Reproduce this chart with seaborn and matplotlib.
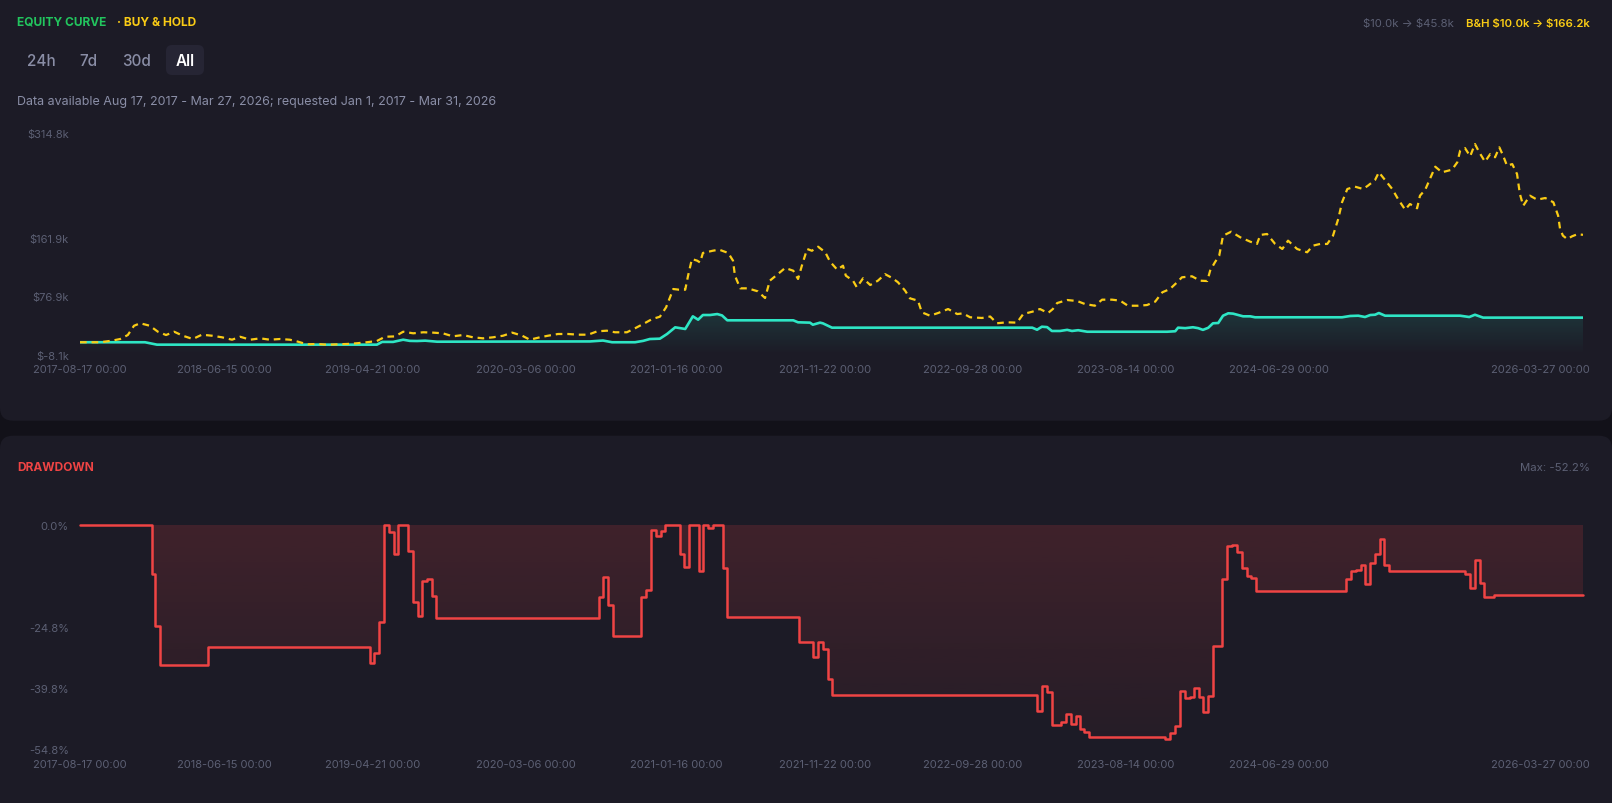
import numpy as np
import pandas as pd
import matplotlib
matplotlib.use("Agg")
import matplotlib.pyplot as plt
import matplotlib.dates as mdates
from matplotlib.patches import FancyBboxPatch
from matplotlib.colors import to_rgb
from matplotlib.transforms import ScaledTranslation
import seaborn as sns

# --- data (days counted from the first bar) ---
START = "2017-08-17"

bh_days = [0, 42, 67, 84, 100, 113, 126, 146, 163, 180,
           197, 215, 236, 255, 276, 297, 318, 335, 356, 377,
           397, 418, 439, 456, 475, 496, 517, 538, 559, 579,
           600, 621, 638, 659, 676, 697, 718, 738, 759, 780,
           801, 822, 843, 864, 885, 904, 925, 941, 962, 979,
           1000, 1021, 1042, 1063, 1082, 1102, 1119, 1144, 1161, 1178,
           1197, 1213, 1226, 1241, 1253, 1266, 1272, 1280, 1291, 1297,
           1303, 1324, 1337, 1356, 1366, 1370, 1381, 1397, 1418, 1433,
           1443, 1460, 1475, 1492, 1502, 1510, 1521, 1531, 1544, 1559,
           1569, 1584, 1596, 1602, 1617, 1625, 1638, 1653, 1669, 1684,
           1699, 1711, 1726, 1736, 1753, 1761, 1778, 1795, 1816, 1835,
           1847, 1862, 1887, 1904, 1918, 1939, 1960, 1973, 1992, 2008,
           2025, 2035, 2044, 2065, 2086, 2102, 2123, 2138, 2159, 2176,
           2192, 2213, 2232, 2249, 2264, 2280, 2295, 2305, 2326, 2343,
           2358, 2364, 2374, 2383, 2391, 2408, 2427, 2448, 2462, 2469,
           2483, 2500, 2515, 2527, 2546, 2567, 2579, 2594, 2609, 2621,
           2632, 2640, 2651, 2667, 2684, 2694, 2709, 2717, 2730, 2745,
           2757, 2772, 2782, 2797, 2803, 2814, 2835, 2849, 2870, 2881,
           2887, 2897, 2908, 2918, 2927, 2939, 2950, 2960, 2969, 2977,
           2985, 2996, 3006, 3012, 3019, 3033, 3048, 3065, 3082, 3092,
           3096, 3102, 3111, 3121, 3132, 3144]
bh_k = [10, 10, 12.3, 14.7, 20.5, 34, 37.6, 34, 25.3, 20.5,
        25.3, 19.5, 14.7, 21, 19.5, 17.2, 13.7, 18, 13.7, 15.7,
        13.7, 14.7, 13.7, 10.8, 7, 7.5, 6.4, 7, 7.5, 8.5,
        10, 11.8, 18, 18.5, 25.3, 23, 24.5, 24, 23, 18.6,
        20.5, 17.2, 15.7, 17.2, 19.5, 24, 19.5, 13.7, 17.2, 19.5,
        22, 22, 21, 21, 25.9, 26.8, 24.5, 24.5, 30.3, 36.5,
        43.8, 47.1, 60.8, 87.4, 86.4, 86.4, 106.8, 131, 128.6, 126,
        139.8, 143.1, 144.6, 139.8, 128.6, 106.8, 88.4, 88.4, 84, 74.3,
        99.5, 109.2, 118, 114, 102, 121.3, 145.6, 143, 148.9, 140.8,
        127.1, 115.5, 121.3, 106.8, 99.5, 89.9, 103, 93.2, 99.5, 109,
        103.4, 97.2, 85, 73.9, 70.4, 53.5, 48.6, 52.5, 58.3, 51,
        52, 46.3, 45.3, 47.4, 37.6, 39, 38.5, 51, 54.4, 58.3,
        52.5, 58.3, 67, 71.4, 69.9, 65.6, 63.1, 71.9, 71.9, 70.4,
        63.1, 63.1, 64.1, 69, 82.6, 87.4, 97.2, 104.4, 105.9, 99.5,
        99, 114, 126.2, 135.8, 164.9, 170.7, 162.6, 156.2, 152.9, 166,
        167.4, 152.9, 145.6, 157.7, 145.6, 140.8, 150.4, 152.9, 152.9, 164.9,
        189.2, 213.5, 232.8, 236.2, 232.8, 237.6, 245.9, 257.1, 245.9, 232.8,
        218.3, 202.7, 211, 204.8, 223.1, 231.8, 265.2, 257.1, 260.9, 271.6,
        288.5, 292.4, 280.4, 298.2, 286.2, 272.5, 283.7, 278.9, 293.4, 281.2,
        266.7, 269, 254.6, 225.5, 208.5, 223.1, 217.3, 219.7, 213.5, 194,
        174.7, 165, 160, 164, 167, 166.2]

eq_days = [0, 136, 161, 621, 632, 655, 676, 690, 705, 722,
           747, 1067, 1094, 1113, 1161, 1178, 1192, 1213, 1228, 1245,
           1266, 1282, 1293, 1303, 1318, 1333, 1343, 1354, 1492, 1502,
           1527, 1533, 1548, 1554, 1573, 1992, 2002, 2012, 2023, 2033,
           2050, 2065, 2075, 2088, 2107, 2274, 2291, 2297, 2312, 2328,
           2339, 2349, 2360, 2370, 2381, 2391, 2402, 2412, 2433, 2448,
           2458, 2640, 2657, 2674, 2688, 2699, 2709, 2717, 2730, 2887,
           2906, 2918, 2935, 3144]
eq_k = [10, 10, 6.5, 6.5, 10.5, 10.5, 13.7, 12, 11.8, 12.3,
        10.8, 11.2, 12.5, 10, 10, 12, 14.7, 15.2, 22, 31.7,
        29.3, 47.7, 42.8, 49.6, 49.6, 51, 49, 41.9, 41.9, 39,
        38.5, 35.5, 38.5, 37.5, 31.2, 31.2, 28.2, 32.6, 32, 26.4,
        26.4, 28, 26.4, 27.5, 25.3, 25.3, 26, 31.2, 30.5, 31.8,
        30.5, 28, 31, 37.6, 38, 48.6, 52.1, 51.6, 47.7, 47.7,
        46.3, 46.3, 48.2, 48.6, 46.7, 49.6, 50, 52.5, 48.6, 48.6,
        46.7, 50, 45.8, 45.8]

dd_days = [0, 151, 157, 167, 268, 607, 615, 626, 636, 646,
           657, 665, 686, 697, 707, 715, 726, 736, 745, 1086,
           1094, 1105, 1115, 1174, 1184, 1195, 1205, 1215, 1224, 1255,
           1264, 1274, 1295, 1303, 1314, 1324, 1345, 1354, 1504, 1533,
           1544, 1554, 1565, 1573, 2002, 2012, 2023, 2033, 2052, 2063,
           2073, 2084, 2092, 2100, 2111, 2270, 2280, 2291, 2301, 2312,
           2322, 2330, 2341, 2349, 2360, 2370, 2389, 2400, 2410, 2420,
           2431, 2441, 2450, 2460, 2648, 2659, 2669, 2680, 2688, 2699,
           2709, 2720, 2728, 2738, 2897, 2908, 2918, 2929, 2937, 2958,
           3144]
dd_pct = [0, -12.0, -24.6, -34.2, -29.9, -33.7, -31.2, -23.6, 0, -1.8,
          -7.1, 0, -6.4, -18.9, -22.3, -13.7, -13.2, -17.3, -22.6, -17.6,
          -12.8, -19.5, -27.2, -17.6, -15.8, -1.1, -2.8, -1.4, 0, -7.1,
          -10.2, 0, -11.3, 0, -0.7, 0, -10.6, -22.4, -28.6, -32.3,
          -28.6, -30.3, -37.7, -41.5, -45.3, -39.2, -40.7, -48.7, -48.2, -46.1,
          -48.5, -46.7, -49.8, -50.6, -51.8, -52.2, -50.8, -49.0, -40.4, -42.3,
          -42.1, -39.8, -42.1, -45.6, -41.8, -29.5, -13.2, -5.2, -4.8, -6.5,
          -10.4, -12.4, -12.9, -16.0, -13.2, -11.2, -10.9, -9.8, -14.4, -9.3,
          -7.2, -3.3, -9.8, -11.2, -12.0, -15.4, -8.5, -14.2, -17.5, -17.2,
          -17.2]

date_ticks = ["2017-08-17", "2018-06-15", "2019-04-21", "2020-03-06", "2021-01-16",
              "2021-11-22", "2022-09-28", "2023-08-14", "2024-06-29", "2026-03-27"]
eq_yticks = [-8.1, 76.9, 161.9, 314.8]
dd_yticks = [0.0, -24.8, -39.8, -54.8]
ranges = ["24h", "7d", "30d", "All"]

# colours
BG = "#121119"
CARD = "#1c1b26"
TEAL = "#2ee6c5"
GOLD = "#facc15"
RED = "#ef4444"
GREEN = "#22c55e"
MUTED = "#5c6074"
SUB = "#8a8ea6"

sns.set_theme(style="dark", rc={"axes.facecolor": "none", "figure.facecolor": BG})
plt.rcParams["font.family"] = ["Inter", "DejaVu Sans"]

t0 = pd.Timestamp(START)
bh = pd.DataFrame({"date": t0 + pd.to_timedelta(bh_days, unit="D"), "value": bh_k})
eq = pd.DataFrame({"date": t0 + pd.to_timedelta(eq_days, unit="D"), "value": eq_k})
dd = pd.DataFrame({"date": t0 + pd.to_timedelta(dd_days, unit="D"), "pct": dd_pct})
t_end = pd.Timestamp(date_ticks[-1])


def gradient_fill(ax, x, y, base, color, a_top, a_bot, y_top, y_bot, step=None):
    coll = ax.fill_between(x, y, base, step=step, facecolor="none", edgecolor="none")
    xn = mdates.date2num(x)
    img = np.zeros((256, 1, 4))
    img[..., :3] = to_rgb(color)
    img[:, 0, 3] = np.linspace(a_top, a_bot, 256)
    im = ax.imshow(img, aspect="auto", origin="upper", interpolation="bilinear",
                   extent=[xn.min(), xn.max(), y_bot, y_top], zorder=1)
    im.set_clip_path(coll.get_paths()[0], ax.transData)


W, H = 1612, 804
fig = plt.figure(figsize=(W / 100, H / 100), dpi=100)

# background cards, in pixel units
bg = fig.add_axes([0, 0, 1, 1], zorder=0)
bg.set_xlim(0, W)
bg.set_ylim(H, 0)
bg.axis("off")
bg.add_patch(FancyBboxPatch((0, -20), W, 441.7, boxstyle="round,pad=0,rounding_size=13",
                            facecolor=CARD, edgecolor="none"))
bg.add_patch(FancyBboxPatch((0, 436.7), W, 400, boxstyle="round,pad=0,rounding_size=13",
                            facecolor=CARD, edgecolor="none"))
bg.add_patch(FancyBboxPatch((166, 46), 38, 30, boxstyle="round,pad=0,rounding_size=6",
                            facecolor="#262534", edgecolor="none"))

bg.text(17, 23, "EQUITY CURVE", color=GREEN, fontsize=8.6, fontweight="bold", va="center")
bg.text(117, 23, "· BUY & HOLD", color=GOLD, fontsize=8.6, fontweight="bold", va="center")
bg.text(1454, 24, "\\$10.0k → \\$45.8k", color=MUTED, fontsize=8.2, ha="right", va="center")
bg.text(1590, 24, "B&H \\$10.0k → \\$166.2k", color=GOLD, fontsize=8.2, ha="right", va="center",
        fontweight="semibold")
for lab, xc in zip(ranges, [41, 88, 137, 185]):
    active = lab == "All"
    bg.text(xc, 62, lab, color="white" if active else SUB, fontsize=11, ha="center", va="center",
            fontweight="semibold" if active else "medium")
bg.text(17, 102, "Data available Aug 17, 2017 - Mar 27, 2026; requested Jan 1, 2017 - Mar 31, 2026",
        color=SUB, fontsize=9.0, va="center")
bg.text(17, 468, "DRAWDOWN", color=RED, fontsize=8.6, fontweight="bold", va="center")
bg.text(1590, 468, "Max: -52.2%", color=MUTED, fontsize=8.2, ha="right", va="center")

# equity curve panel
ax1 = fig.add_axes([80 / W, 1 - 355.7 / H, 1503 / W, 222.1 / H], zorder=2)
sns.lineplot(data=eq, x="date", y="value", ax=ax1, color=TEAL, linewidth=1.9,
             estimator=None, zorder=3)
sns.lineplot(data=bh, x="date", y="value", ax=ax1, color=GOLD, linewidth=1.6,
             linestyle=(0, (3.0, 2.2)), estimator=None, zorder=4)
gradient_fill(ax1, eq["date"], eq["value"], -8.1, TEAL, 0.13, 0.0, max(eq_k), -8.1)
ax1.set_xlim(t0, t_end)
ax1.set_ylim(-8.1, 314.8)
ax1.set_yticks(eq_yticks)
ax1.set_yticklabels([f"\\${v:.1f}k" for v in eq_yticks])

# drawdown panel
ax2 = fig.add_axes([80 / W, 1 - 750.5 / H, 1503 / W, 224.5 / H], zorder=2)
sns.lineplot(data=dd, x="date", y="pct", ax=ax2, color=RED, linewidth=1.8,
             drawstyle="steps-post", estimator=None, zorder=3)
ax2.lines[-1].set_clip_on(False)
gradient_fill(ax2, dd["date"], dd["pct"], 0, RED, 0.17, 0.04, 0, -54.8, step="post")
ax2.set_xlim(t0, t_end)
ax2.set_ylim(-54.8, 0)
ax2.set_yticks(dd_yticks)
ax2.set_yticklabels([f"{v:.1f}%" for v in dd_yticks])

for ax in (ax1, ax2):
    ax.set_xticks(pd.to_datetime(date_ticks))
    ax.set_xticklabels([d + " 00:00" for d in date_ticks])
    ax.set_xlabel("")
    ax.set_ylabel("")
    ax.grid(False)
    for s in ax.spines.values():
        s.set_visible(False)
    ax.tick_params(axis="x", length=0, colors=MUTED, labelsize=8, pad=7)
    ax.tick_params(axis="y", length=0, colors=MUTED, labelsize=8, pad=8)
    last = ax.get_xticklabels()[-1]
    last.set_ha("right")
    last.set_transform(last.get_transform() + ScaledTranslation(7 / 100, 0, fig.dpi_scale_trans))

fig.savefig("out.png", dpi=100, facecolor=BG)
